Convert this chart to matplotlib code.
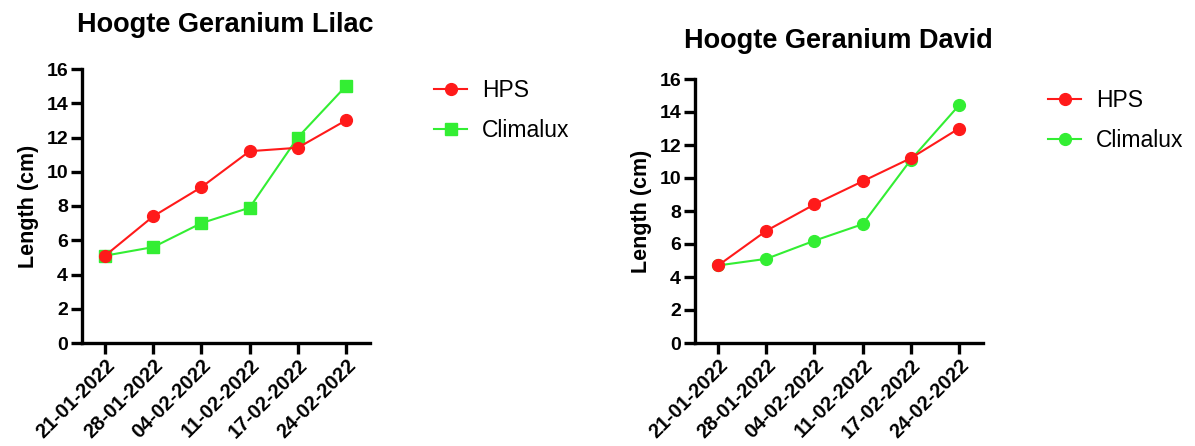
import matplotlib
matplotlib.use("Agg")
import matplotlib.pyplot as plt

dates = ["21-01-2022", "28-01-2022", "04-02-2022", "11-02-2022", "17-02-2022", "24-02-2022"]
lilac_hps = [5.1, 7.4, 9.1, 11.2, 11.4, 13.0]
lilac_climalux = [5.1, 5.6, 7.0, 7.9, 12.0, 15.0]
david_hps = [4.7, 6.8, 8.4, 9.8, 11.2, 13.0]
david_climalux = [4.7, 5.1, 6.2, 7.2, 11.1, 14.4]
yticks = [0, 2, 4, 6, 8, 10, 12, 14, 16]

RED = "#FF1A1A"
GREEN = "#33EE33"

plt.rcParams["font.family"] = ["Liberation Sans", "DejaVu Sans"]

fig = plt.figure(figsize=(11.95, 4.46), dpi=100)

def make(ax_rect, title, hps, cli, cli_marker, title_y, title_x, leg_anchor):
    ax = fig.add_axes(ax_rect)
    x = list(range(len(dates)))
    l2, = ax.plot(x, cli, color=GREEN, lw=1.5, marker=cli_marker,
                  markersize=8.5 if cli_marker == "o" else 8, label="Climalux", zorder=3)
    l1, = ax.plot(x, hps, color=RED, lw=1.5, marker="o", markersize=8.5,
                  label="HPS", zorder=4)
    ax.set_xlim(-0.48, 5.5)
    ax.set_ylim(0, 16)
    ax.set_yticks(yticks)
    ax.set_yticklabels([str(v) for v in yticks], fontsize=14, fontweight="bold")
    ax.set_xticks(x)
    ax.set_xticklabels(dates, rotation=45, ha="right", rotation_mode="anchor",
                       fontsize=14.5, fontweight="bold")
    ax.set_ylabel("Length (cm)", fontsize=15.5, fontweight="bold", labelpad=5)
    for s in ["top", "right"]:
        ax.spines[s].set_visible(False)
    for s in ["left", "bottom"]:
        ax.spines[s].set_linewidth(2.4)
    ax.tick_params(axis="both", width=2.4, length=8, direction="out", pad=2)
    ax.tick_params(axis="x", pad=1)
    fig.text(title_x, title_y, title, fontsize=19.5, fontweight="bold",
             ha="center", va="center")
    ax.legend(handles=[l1, l2], loc="upper left", bbox_to_anchor=leg_anchor,
              bbox_transform=fig.transFigure, frameon=False, fontsize=16.5,
              handlelength=1.45, handletextpad=0.65, labelspacing=0.75,
              borderaxespad=0, borderpad=0)
    return ax

make([82/1195, 1-343/446, 288/1195, 274/446], "Hoogte Geranium Lilac",
     lilac_hps, lilac_climalux, "s", 1-25/446, 225/1195, (434/1195, 1-79/446))
make([695/1195, 1-343/446, 288/1195, 264/446], "Hoogte Geranium David",
     david_hps, david_climalux, "o", 1-41/446, 838/1195, (1048/1195, 1-89/446))

fig.savefig("out.png", dpi=100)
